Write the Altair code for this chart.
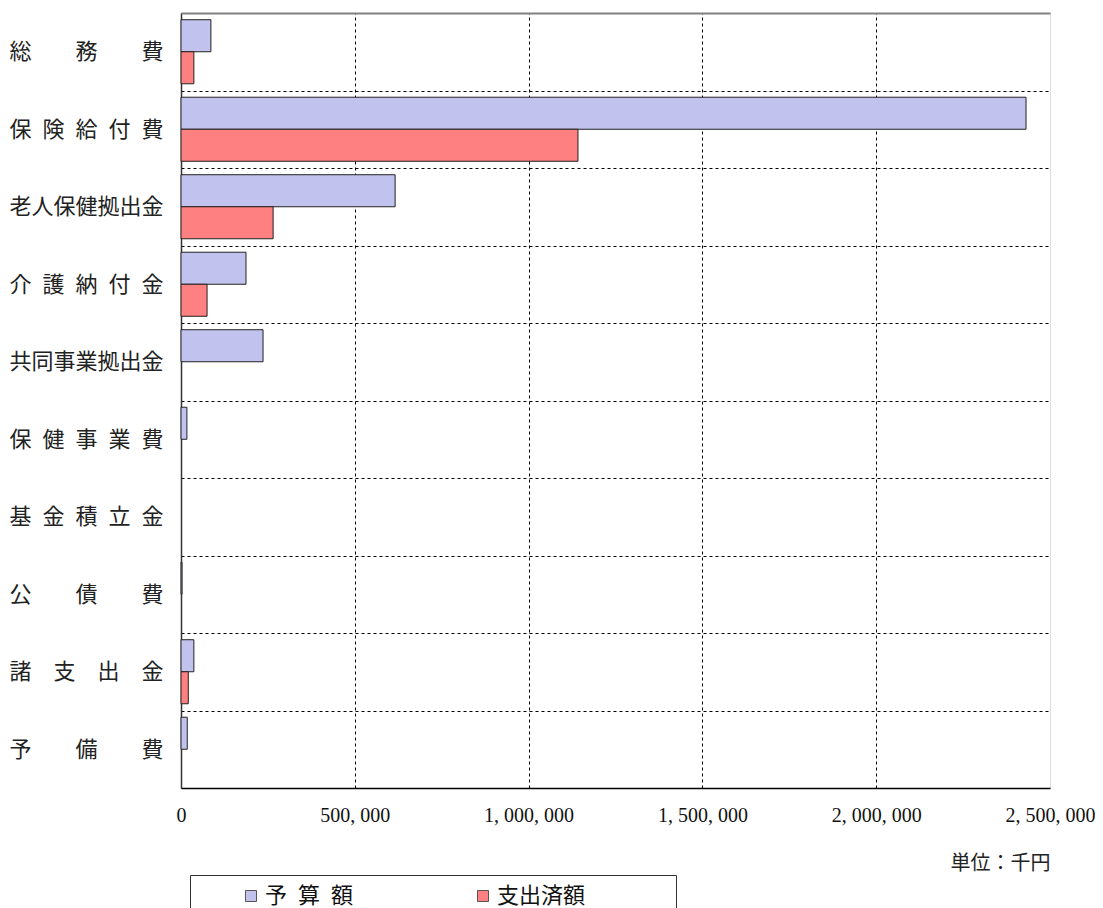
import altair as alt
import pandas as pd

categories = [
    "総\u3000\u3000務\u3000\u3000費",
    "保\u2002険\u2002給\u2002付\u2002費",
    "老人保健拠出金",
    "介\u2002護\u2002納\u2002付\u2002金",
    "共同事業拠出金",
    "保\u2002健\u2002事\u2002業\u2002費",
    "基\u2002金\u2002積\u2002立\u2002金",
    "公\u3000\u3000債\u3000\u3000費",
    "諸\u3000支\u3000出\u3000金",
    "予\u3000\u3000備\u3000\u3000費",
]
budget = [86000, 2431000, 616000, 187000, 236000, 17000, 0, 3000, 37000, 18000]
spent = [37000, 1142000, 265000, 75000, 0, 0, 0, 0, 21000, 0]
series = ["予\u2002算\u2002額", "支出済額"]
x_ticks = [0, 500000, 1000000, 1500000, 2000000, 2500000]

rows = []
for c, b, s in zip(categories, budget, spent):
    rows.append({"category": c, "series": series[0], "value": b})
    rows.append({"category": c, "series": series[1], "value": s})
df = pd.DataFrame(rows)

jp = "Noto Sans CJK JP"

x_scale = alt.Scale(domain=[0, 2500000], nice=False)
y_scale = alt.Scale(domain=categories, paddingInner=0, paddingOuter=0)

# blank padding after the last legend label so the legend box spans as wide as the original
pad = "\u2800" * 5

bars = (
    alt.Chart(df)
    .transform_filter("datum.value > 0")
    .mark_bar(stroke="#222222", strokeWidth=1)
    .encode(
        x=alt.X(
            "value:Q",
            scale=x_scale,
            axis=alt.Axis(
                values=x_ticks,
                format=",d",
                labelExpr="replace(datum.label, regexp(',', 'g'), ', ')",
                labelFont="Liberation Serif",
                labelFontSize=20,
                labelColor="#111111",
                labelPadding=17,
                labelFlush=False,
                labelOverlap=False,
                ticks=False,
                grid=True,
                gridColor="#000000",
                gridDash=[3, 3],
                gridWidth=1,
                gridOpacity={"condition": {"test": "datum.value == 0 || datum.value == 2500000", "value": 0}, "value": 1},
                domainColor="#000000",
                domainWidth=1.5,
                title="単位：千円",
                titleFont=jp,
                titleFontSize=20,
                titleFontWeight="normal",
                titleColor="#222222",
                titleAnchor="end",
                titleAlign="right",
                titlePadding=28,
            ),
        ),
        y=alt.Y(
            "category:N",
            sort=categories,
            scale=y_scale,
            axis=alt.Axis(
                title=None,
                labelFont=jp,
                labelFontSize=22,
                labelColor="#222222",
                labelPadding=18,
                labelLimit=300,
                ticks=False,
                tickBand="extent",
                grid=True,
                gridColor="#000000",
                gridDash=[3, 3],
                gridWidth=1,
                domainColor="#333333",
                domainWidth=1.5,
            ),
        ),
        yOffset=alt.YOffset(
            "series:N",
            sort=series,
            scale=alt.Scale(domain=series, paddingInner=0, paddingOuter=0.21),
        ),
        color=alt.Color(
            "series:N",
            sort=series,
            scale=alt.Scale(domain=series, range=["#c2c2ee", "#ff8080"]),
            legend=alt.Legend(
                title=None,
                orient="none",
                direction="horizontal",
                legendX=9,
                legendY=862,
                symbolType="square",
                symbolSize=121,
                symbolStrokeColor="#555555",
                symbolStrokeWidth=1,
                symbolOpacity=1,
                symbolOffset=40,
                labelOffset=3,
                labelFont=jp,
                labelFontSize=22,
                labelColor="#111111",
                labelLimit=400,
                labelExpr=f"datum.label == '{series[1]}' ? datum.label + '{pad}' : datum.label",
                columnPadding=78,
                padding=10,
                strokeColor="#333333",
                fillColor="#ffffff",
            ),
        ),
    )
)

frame_top = (
    alt.Chart(df)
    .mark_bar(opacity=0)
    .encode(
        x=alt.X(
            "value:Q",
            scale=x_scale,
            axis=alt.Axis(
                orient="top",
                labels=False,
                ticks=False,
                grid=False,
                title=None,
                domainColor="#808080",
                domainWidth=2,
                zindex=2,
            ),
        ),
    )
)

chart = (
    alt.layer(bars, frame_top)
    .resolve_axis(x="independent")
    .properties(
        width=869,
        height=775,
        autosize=alt.AutoSizeParams(type="none"),
        padding={"left": 173, "top": 5, "right": 45, "bottom": 120},
    )
    .configure_view(stroke="#808080", strokeWidth=2)
    .configure(background="#ffffff")
)

chart.save("out.html", embed_options={"renderer": "svg", "actions": False})
